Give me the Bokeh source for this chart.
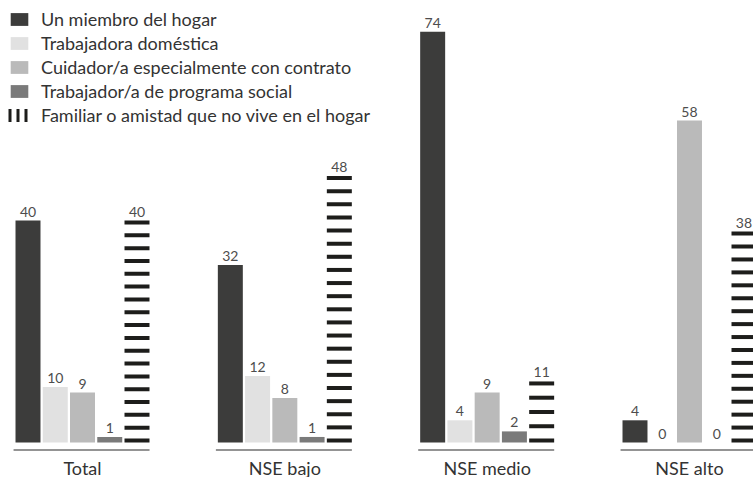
import numpy as np
from bokeh.plotting import figure
from bokeh.models import Range1d, Legend, LegendItem, ColumnDataSource, CDSView, IndexFilter
from bokeh.core.properties import value
from bokeh.embed import file_html
from bokeh.resources import INLINE

# ---- data ----
groups = ["Total", "NSE bajo", "NSE medio", "NSE alto"]
series = [
    "Un miembro del hogar",
    "Trabajadora doméstica",
    "Cuidador/a especialmente con contrato",
    "Trabajador/a de programa social",
    "Familiar o amistad que no vive en el hogar",
]
miembro = [40, 32, 74, 4]
domestica = [10, 12, 4, 0]
cuidador = [9, 8, 9, 58]
programa = [1, 1, 2, 0]
familiar = [40, 48, 11, 38]

# ---- styling / layout ----
FONT = "Lato"
colors = ["#3c3c3b", "#e1e1e1", "#bababa", "#7a7a7a"]
stripe_color = "#1d1d1b"
G = 7.425          # group pitch in bar slots
BW = 0.917         # bar width (slots)
PX = 5.55          # px per unit (y)
W, H = 753, 477
base_fy = 442
slot_px = 27.25
x0 = -27.5 / slot_px

p = figure(width=W, height=H, output_backend="svg", toolbar_location=None,
           x_range=Range1d(x0, x0 + W / slot_px),
           y_range=Range1d(-(H - base_fy) / PX, base_fy / PX),
           x_axis_location=None, y_axis_location=None, min_border=0)
p.grid.visible = False
p.outline_line_color = None
p.background_fill_color = "white"

solid = [miembro, domestica, cuidador, programa]
legend_renderers = []
for j, vals in enumerate(solid):
    xs = [g * G + j for g in range(len(groups))]
    r = p.vbar(x=xs, top=vals, bottom=0, width=BW, fill_color=colors[j], line_color=None)
    legend_renderers.append(r)

# striped bars (horizontal stripes stacked up to each value)
sh = 4 / PX
per = 12.5 / PX
sx, sb, st = [], [], []
for g, v in enumerate(familiar):
    if v <= 0:
        continue
    n = int((v - sh) // per) + 1
    tops = np.linspace(v, sh, n)
    for t in tops:
        sx.append(g * G + 4)
        st.append(t)
        sb.append(t - sh)
stripe_src = ColumnDataSource(dict(x=sx, top=st, bottom=sb))
p.vbar(x="x", top="top", bottom="bottom", width=BW, source=stripe_src,
       fill_color=stripe_color, line_color=None)

# legend-only renderer for the striped series (icon of vertical bars);
# a one-point line draws nothing in the plot itself
r_h = p.line(x="x", y="top", source=stripe_src, view=CDSView(filter=IndexFilter(indices=[0])),
             line_width=13, line_dash="3 5", line_cap="butt", line_color=stripe_color)
legend_renderers.append(r_h)

# value labels
all_series = [miembro, domestica, cuidador, programa, familiar]
lx, ly, lt = [], [], []
for j, vals in enumerate(all_series):
    for g, v in enumerate(vals):
        lx.append(g * G + j)
        ly.append(v)
        lt.append(str(v))
p.text(x=lx, y=ly, text=lt, text_align="center", text_baseline="bottom", y_offset=-4,
       text_font=value(FONT), text_font_size="14px", text_color="#4d4d4d")

# group baselines
line_y = -7.5 / PX
p.segment(x0=[g * G - 0.53 for g in range(len(groups))],
          x1=[g * G + 4.46 for g in range(len(groups))],
          y0=[line_y] * len(groups), y1=[line_y] * len(groups),
          line_color="#707070", line_width=1.5)

# category labels
p.text(x=[g * G + 2 for g in range(len(groups))], y=[-(467 - base_fy) / PX] * len(groups),
       text=groups, text_align="center", text_baseline="middle",
       text_font=value(FONT), text_font_size="18px", text_color="#333333")

legend = Legend(items=[LegendItem(label=s, renderers=[r]) for s, r in zip(series, legend_renderers)],
                location="top_left", margin=8, padding=1, spacing=2,
                glyph_width=22, glyph_height=16, label_standoff=11, label_height=20,
                label_text_font=FONT, label_text_font_size="18px", label_text_color="#333333",
                border_line_color=None, background_fill_alpha=0)
p.add_layout(legend)

open("out.html", "w").write(file_html(p, INLINE))
